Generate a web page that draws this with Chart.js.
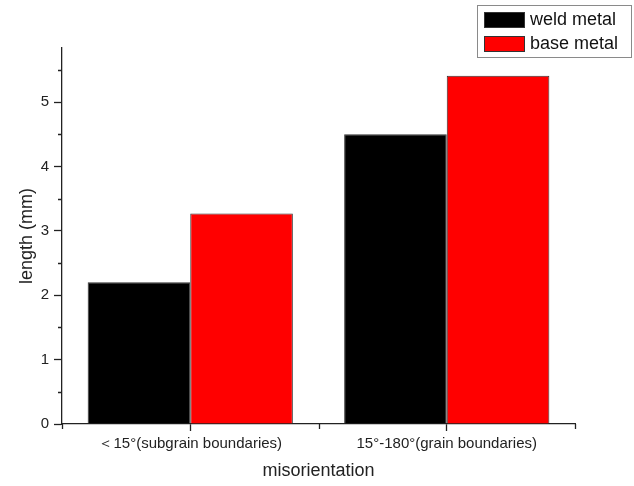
<!DOCTYPE html>
<html>
<head>
<meta charset="utf-8">
<title>misorientation length</title>
<script src="https://cdn.jsdelivr.net/npm/chart.js@4"></script>
<style>
  html, body { margin: 0; padding: 0; background: #fff; }
  canvas { display: block; }
</style>
</head>
<body>
<canvas id="barChart" width="634" height="486"></canvas>
<script>
// data
const categories = ['＜15°(subgrain boundaries)', '15°-180°(grain boundaries)'];
const weldMetal = [2.2, 4.5];
const baseMetal = [3.27, 5.41];
const seriesNames = ['weld metal', 'base metal'];
const yTicks = [0, 1, 2, 3, 4, 5];

const FONT = '"Liberation Sans", Arial, sans-serif';
const INK = '#222';

// small outward minor ticks (half steps on y, category edges on x)
const minorTicks = {
    id: 'minorTicks',
    afterDraw(chart) {
        const ctx = chart.ctx;
        const y = chart.scales.y;
        const x = chart.scales.x;
        const area = chart.chartArea;
        ctx.save();
        ctx.strokeStyle = INK;
        ctx.lineWidth = 1.3;
        ctx.beginPath();
        for (let v = 0.5; v < y.max; v += 1) {
            const py = Math.round(y.getPixelForValue(v)) + 0.5;
            ctx.moveTo(area.left - 4, py);
            ctx.lineTo(area.left, py);
        }
        for (let i = -0.5; i <= categories.length - 0.5; i += 1) {
            const px = Math.round(x.getPixelForValue(i)) + 0.5;
            ctx.moveTo(px, area.bottom);
            ctx.lineTo(px, area.bottom + 5);
        }
        ctx.stroke();
        ctx.restore();
    }
};

// boxed legend in the top right corner
const boxLegend = {
    id: 'boxLegend',
    afterDraw(chart) {
        const ctx = chart.ctx;
        const right = chart.width - 3;
        const left = right - 154;
        const top = 5;
        const rowH = 24;
        ctx.save();
        ctx.strokeStyle = '#8a8a8a';
        ctx.lineWidth = 1;
        ctx.strokeRect(left + 0.5, top + 0.5, right - left, 52);
        ctx.font = '18px ' + FONT;
        ctx.textBaseline = 'middle';
        ctx.textAlign = 'left';
        chart.data.datasets.forEach((ds, i) => {
            const sy = top + 7 + i * rowH;
            ctx.fillStyle = ds.backgroundColor;
            ctx.fillRect(left + 7, sy, 41, 16);
            ctx.strokeStyle = '#333';
            ctx.strokeRect(left + 7.5, sy + 0.5, 40, 15);
            ctx.fillStyle = '#111';
            ctx.fillText(ds.label, left + 53, sy + 8.5);
        });
        ctx.restore();
    }
};

new Chart(document.getElementById('barChart'), {
    type: 'bar',
    data: {
        labels: categories,
        datasets: [
            {
                label: seriesNames[0],
                data: weldMetal,
                backgroundColor: '#000000',
                borderColor: '#333',
                borderWidth: 1
            },
            {
                label: seriesNames[1],
                data: baseMetal,
                backgroundColor: '#ff0000',
                borderColor: '#333',
                borderWidth: 1
            }
        ]
    },
    options: {
        responsive: false,
        animation: false,
        devicePixelRatio: 1,
        categoryPercentage: 0.8,
        barPercentage: 1.0,
        layout: {
            padding: { top: 48, right: 59, bottom: 0, left: 0 }
        },
        plugins: {
            legend: { display: false },
            tooltip: { enabled: false }
        },
        scales: {
            x: {
                offset: true,
                afterFit(scale) { scale.height = 62; },
                grid: {
                    offset: false,
                    drawOnChartArea: false,
                    tickLength: 7,
                    tickColor: INK,
                    tickWidth: 1.3
                },
                border: { display: true, color: INK, width: 1.3 },
                ticks: {
                    maxRotation: 0,
                    padding: 4,
                    color: INK,
                    font: { family: FONT, size: 15 }
                },
                title: {
                    display: true,
                    text: 'misorientation',
                    color: INK,
                    padding: { top: 0, bottom: 4 },
                    font: { family: FONT, size: 18 }
                }
            },
            y: {
                min: 0,
                max: 5.84,
                afterFit(scale) { scale.width = 62; },
                afterBuildTicks(scale) {
                    scale.ticks = yTicks.map(v => ({ value: v }));
                },
                grid: {
                    drawOnChartArea: false,
                    tickLength: 8,
                    tickColor: INK,
                    tickWidth: 1.3
                },
                border: { display: true, color: INK, width: 1.3 },
                ticks: {
                    padding: 5,
                    color: INK,
                    font: { family: FONT, size: 15 }
                },
                title: {
                    display: true,
                    text: 'length (mm)',
                    color: INK,
                    padding: { top: 16, bottom: 0 },
                    font: { family: FONT, size: 18 }
                }
            }
        }
    },
    plugins: [minorTicks, boxLegend]
});
</script>
</body>
</html>
